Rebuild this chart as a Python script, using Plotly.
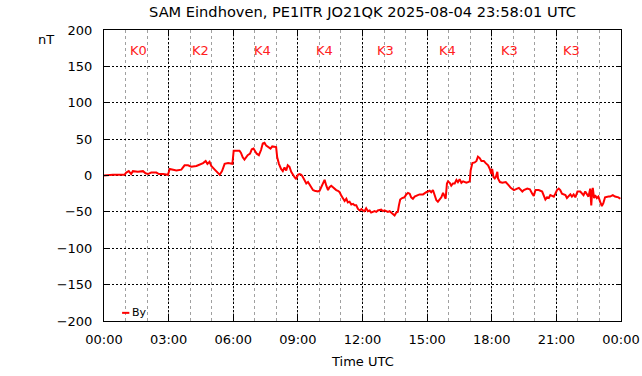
import plotly.graph_objects as go

# ---- data (hours since 00:00 UTC, By in nT) ----
hours = [0.0, 0.41, 0.95, 1.03, 1.15, 1.26, 1.34, 1.57, 1.81, 1.93, 2.04, 2.19, 2.43, 2.55, 2.74, 2.97,
         3.05, 3.2, 3.36, 3.59, 3.74, 3.9, 4.05, 4.29, 4.44, 4.6, 4.72, 4.8, 4.9, 4.98, 5.14, 5.29, 5.37,
         5.48, 5.6, 5.76, 5.96, 6.02, 6.29, 6.36, 6.44, 6.52, 6.6, 6.67, 6.78, 6.86, 6.94, 7.03, 7.09,
         7.19, 7.29, 7.37, 7.45, 7.53, 7.65, 7.73, 7.81, 7.91, 7.99, 8.04, 8.12, 8.22, 8.3, 8.38, 8.46,
         8.53, 8.61, 8.69, 8.77, 8.84, 8.92, 9.0, 9.08, 9.16, 9.23, 9.31, 9.39, 9.47, 9.54, 9.62, 9.7,
         9.78, 9.85, 9.93, 10.01, 10.09, 10.16, 10.24, 10.32, 10.4, 10.47, 10.55, 10.63, 10.7, 10.78,
         10.86, 10.94, 11.02, 11.09, 11.17, 11.25, 11.32, 11.4, 11.48, 11.56, 11.63, 11.71, 11.79, 11.87,
         11.95, 12.02, 12.09, 12.17, 12.25, 12.33, 12.4, 12.48, 12.56, 12.64, 12.71, 12.87, 12.95, 13.02,
         13.1, 13.18, 13.26, 13.33, 13.41, 13.49, 13.57, 13.64, 13.69, 13.75, 13.84, 13.95, 14.03, 14.11,
         14.19, 14.26, 14.34, 14.42, 14.57, 14.65, 14.81, 14.88, 14.96, 15.12, 15.19, 15.27, 15.35, 15.43,
         15.5, 15.58, 15.66, 15.74, 15.81, 15.86, 15.92, 15.97, 16.05, 16.12, 16.2, 16.28, 16.36, 16.43,
         16.51, 16.59, 16.67, 16.82, 16.9, 16.98, 17.02, 17.1, 17.21, 17.29, 17.36, 17.44, 17.52, 17.63,
         17.72, 17.83, 17.91, 17.98, 18.02, 18.08, 18.14, 18.19, 18.26, 18.29, 18.38, 18.49, 18.65, 18.72,
         18.8, 18.88, 19.03, 19.18, 19.26, 19.42, 19.49, 19.65, 19.77, 19.88, 19.95, 20.03, 20.18, 20.34,
         20.42, 20.49, 20.57, 20.65, 20.72, 20.88, 20.95, 21.03, 21.11, 21.18, 21.26, 21.42, 21.49, 21.57,
         21.65, 21.72, 21.8, 21.88, 21.98, 22.11, 22.18, 22.26, 22.34, 22.42, 22.49, 22.57, 22.62, 22.66,
         22.69, 22.75, 22.8, 22.88, 22.95, 23.03, 23.11, 23.18, 23.26, 23.42, 23.49, 23.62, 23.72, 23.88,
         23.97]
by_nT = [0, 1, 1, 4, 6, 2, 6, 5, 6, 3, 2, 4, 4, 2, 2, 1,
         9, 8, 7, 8, 14, 14, 12, 13, 15, 17, 20, 16, 19, 13, 8, 4, 1,
         6, 16, 17, 16, 34, 34, 31, 25, 22, 25, 28, 30, 36, 37, 32, 30,
         28, 35, 44, 45, 41, 39, 37, 40, 39, 39, 25, 16, 9, 6, 11, 7,
         14, 12, 5, 0, -2, -5, 1, 2, 1, -2, -7, -11, -9, -12, -16, -20,
         -21, -22, -22, -21, -16, -12, -6, -14, -20, -16, -14, -16, -18, -20,
         -21, -23, -28, -32, -35, -32, -37, -36, -40, -39, -41, -41, -46, -48,
         -46, -48, -49, -45, -49, -48, -51, -50, -49, -50, -48, -47, -49, -48,
         -49, -50, -49, -51, -52, -55, -51, -50, -41, -33, -31, -30, -26, -24,
         -25, -30, -32, -29, -27, -26, -26, -24, -23, -21, -23, -20, -27, -34,
         -36, -33, -30, -24, -30, -32, -11, -8, -10, -14, -11, -11, -6, -9,
         -5, -10, -8, -10, -9, -8, 7, 17, 18, 20, 26, 24, 20, 20,
         17, 14, 9, 2, 9, -2, -4, -2, 5, -4, -9, -10, -9, -11,
         -14, -17, -20, -18, -17, -22, -20, -18, -19, -25, -28, -20, -20, -22,
         -29, -33, -30, -31, -27, -29, -25, -20, -18, -20, -25, -27, -31, -29,
         -26, -29, -26, -30, -22, -22, -25, -27, -22, -25, -29, -18, -41, -22,
         -17, -31, -27, -31, -29, -36, -42, -38, -30, -29, -29, -27, -29, -30,
         -32]

# K-index labels per period
k_labels = ["K0", "K2", "K4", "K4", "K3", "K4", "K3", "K3"]
k_hours = [1.6, 4.47, 7.34, 10.22, 13.07, 15.95, 18.83, 21.72]
k_level = 172

# axis ticks
x_tickvals = [0, 3, 6, 9, 12, 15, 18, 21, 24]
x_ticktext = ["00:00", "03:00", "06:00", "09:00", "12:00", "15:00", "18:00", "21:00", "00:00"]
y_tickvals = [200, 150, 100, 50, 0, -50, -100, -150, -200]

FONT = "DejaVu Sans"

fig = go.Figure()
fig.add_trace(go.Scatter(x=hours, y=by_nT, mode="lines", name="By",
                         line=dict(color="#ff0000", width=2), showlegend=False))

for lab, h in zip(k_labels, k_hours):
    fig.add_annotation(x=h, y=k_level, xref="x", yref="y", text=lab, showarrow=False,
                       font=dict(family=FONT, size=13, color="#ff2020"))

# manual small legend
fig.add_shape(type="line", xref="paper", yref="paper", x0=0.035, x1=0.049, y0=0.028, y1=0.028,
              line=dict(color="#ff0000", width=2))
fig.add_annotation(x=0.050, y=0.028, xref="paper", yref="paper", text="By", showarrow=False,
                   xanchor="left", yanchor="middle", font=dict(family=FONT, size=11, color="black"))

# axis titles
fig.add_annotation(x=-0.112, y=0.966, xref="paper", yref="paper", text="nT", showarrow=False,
                   xanchor="center", yanchor="middle", font=dict(family=FONT, size=13, color="black"))
fig.add_annotation(x=0.5, y=-0.139, xref="paper", yref="paper", text="Time UTC", showarrow=False,
                   xanchor="center", yanchor="middle", font=dict(family=FONT, size=13, color="black"))

fig.update_layout(
    width=642, height=376, autosize=False,
    margin=dict(l=104, r=21, t=30, b=55, autoexpand=False),
    paper_bgcolor="white", plot_bgcolor="white",
    font=dict(family=FONT, size=13, color="black"),
    title=dict(text="SAM Eindhoven, PE1ITR JO21QK 2025-08-04 23:58:01 UTC",
               x=0.5, xref="paper", xanchor="center", y=1 - 12 / 376, yanchor="middle",
               font=dict(family=FONT, size=14.6, color="black")),
    xaxis=dict(range=[0, 24], tickmode="array", tickvals=x_tickvals, ticktext=x_ticktext,
               showgrid=True, gridcolor="black", gridwidth=1, griddash="2px,2px",
               minor=dict(dtick=1, tick0=0, showgrid=True, gridcolor="#a0a0a0", gridwidth=1,
                          griddash="3px,3px", ticks=""),
               showline=True, linecolor="black", linewidth=1, mirror="ticks",
               ticks="inside", ticklen=5, tickcolor="black", ticklabelstandoff=6,
               zeroline=False, fixedrange=True, automargin=False),
    yaxis=dict(range=[-200, 200], tickmode="array", tickvals=y_tickvals,
               showgrid=True, gridcolor="black", gridwidth=1, griddash="2px,2px",
               showline=True, linecolor="black", linewidth=1, mirror="ticks",
               ticks="inside", ticklen=5, tickcolor="black", ticklabelstandoff=8,
               zeroline=False, fixedrange=True, automargin=False),
)

fig.write_html("out.html", config={"displayModeBar": False},
               post_script="document.body.style.margin='0';document.body.style.overflow='hidden';")
